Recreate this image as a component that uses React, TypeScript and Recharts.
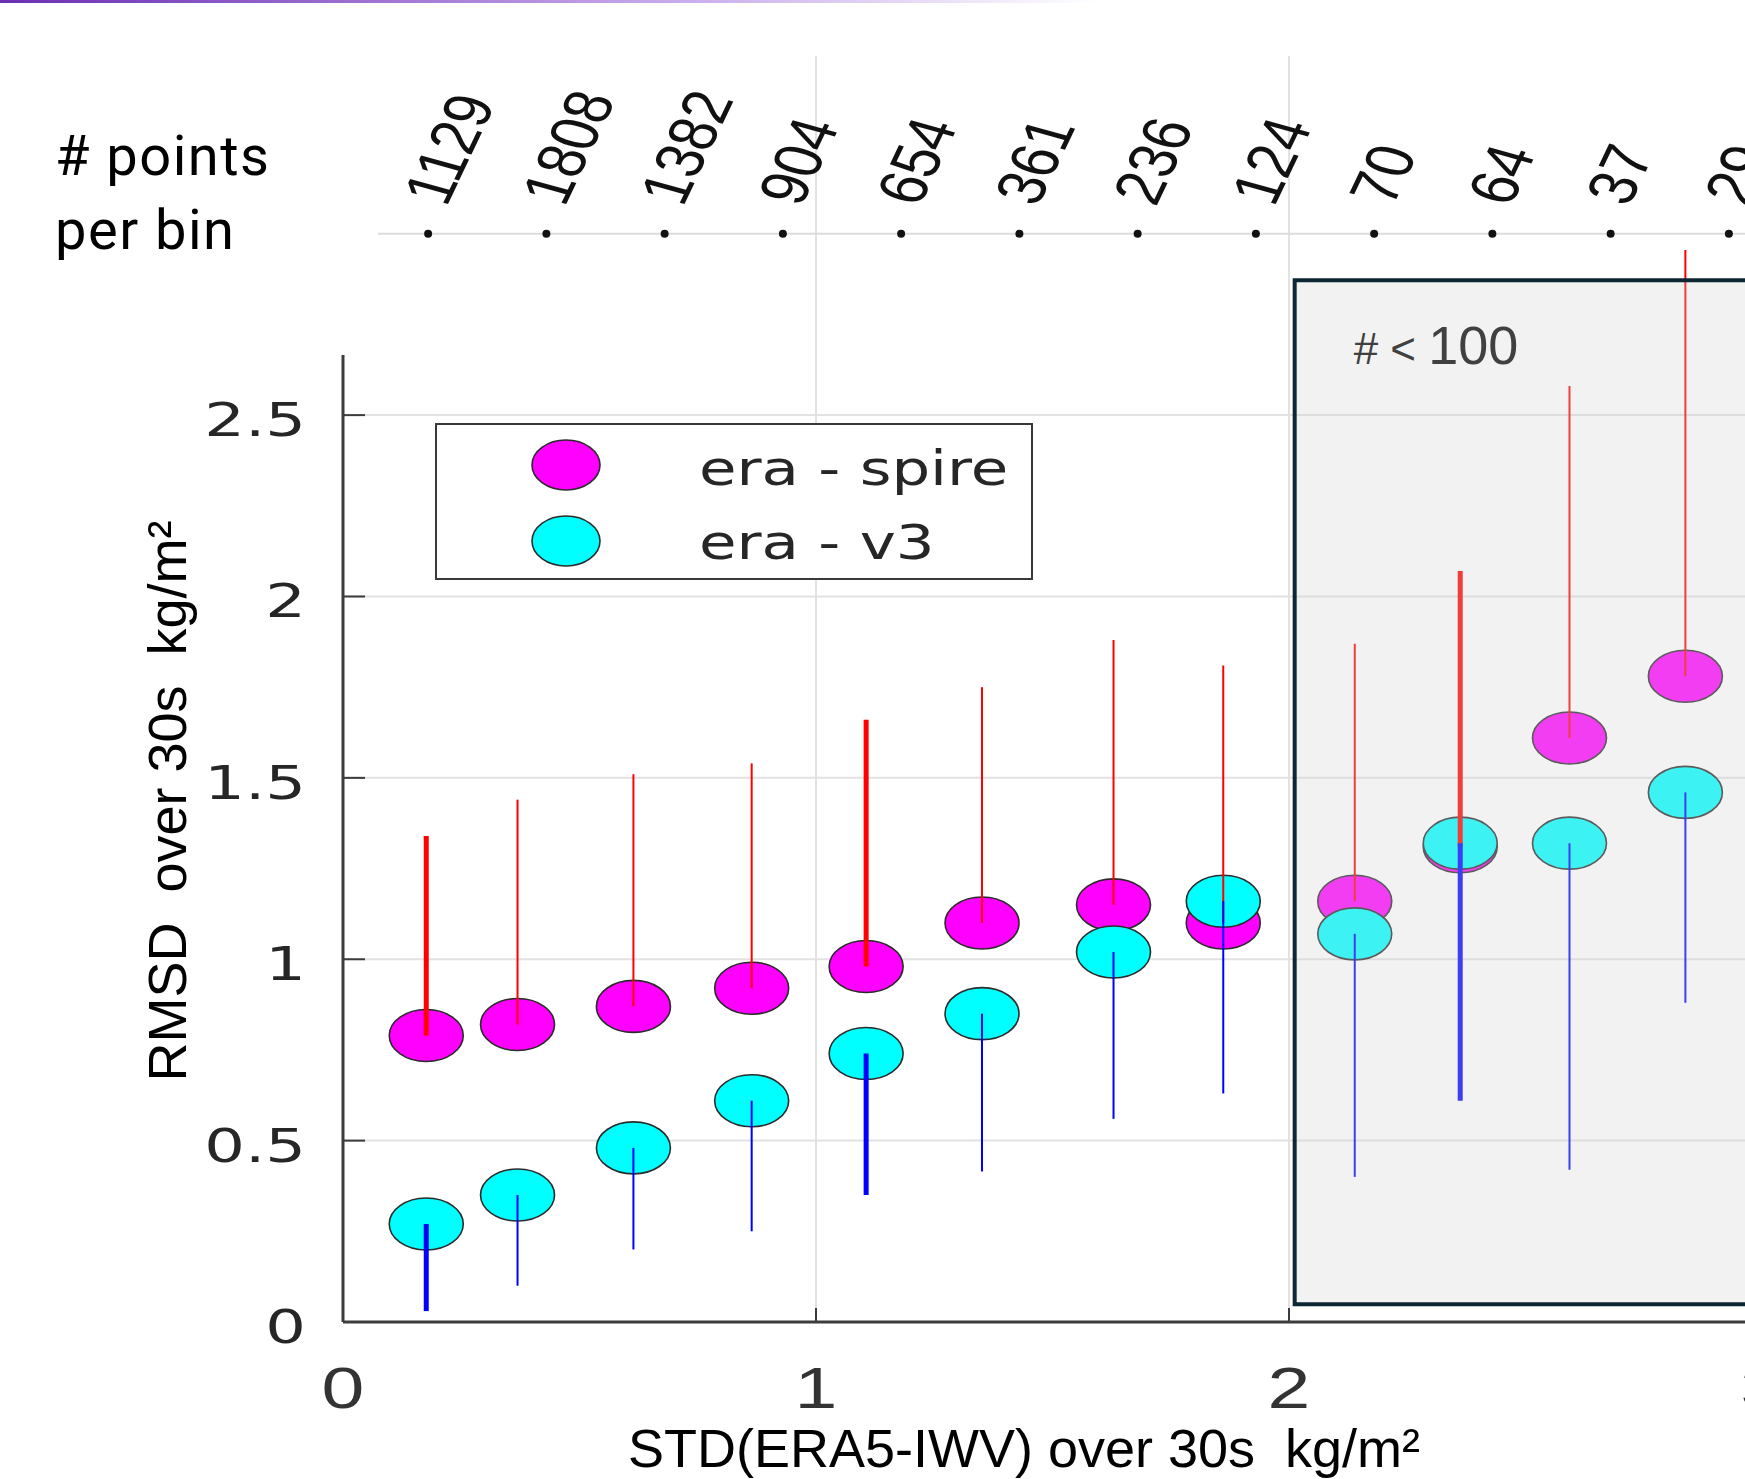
import React from 'react';
import {
  ScatterChart,
  Scatter,
  XAxis,
  YAxis,
  CartesianGrid,
  ErrorBar,
  ReferenceLine,
  ReferenceArea,
  Legend,
} from 'recharts';

// mean STD(ERA5-IWV) in each bin (kg/m2)
const binX = [0.176, 0.369, 0.614, 0.864, 1.106, 1.351, 1.629, 1.861, 2.139, 2.362, 2.593, 2.838];

// era - spire : RMSD and its spread (drawn upwards)
const spireRmsd = [0.79, 0.82, 0.87, 0.92, 0.98, 1.1, 1.15, 1.1, 1.16, 1.31, 1.61, 1.78];
const spireSpread = [0.55, 0.62, 0.64, 0.62, 0.68, 0.65, 0.73, 0.71, 0.71, 0.76, 0.97, 1.175];

// era - v3 : RMSD and its spread (drawn downwards)
const v3Rmsd = [0.27, 0.35, 0.48, 0.61, 0.74, 0.85, 1.02, 1.16, 1.07, 1.32, 1.32, 1.46];
const v3Spread = [0.24, 0.25, 0.28, 0.36, 0.39, 0.435, 0.46, 0.53, 0.67, 0.71, 0.9, 0.58];

// "# points per bin" row
const countX = [0.18, 0.43, 0.68, 0.93, 1.18, 1.43, 1.68, 1.93, 2.18, 2.43, 2.68, 2.93];
const pointCounts = [1129, 1808, 1382, 904, 654, 361, 236, 124, 70, 64, 37, 29];

const xTicks = [0, 1, 2, 3];
const yTicks = [0, 0.5, 1, 1.5, 2, 2.5];

// bins whose bars are drawn heavier in the original
const THICK_BINS = [0, 4, 9];
// height (in data units) of the count row above the axes
const COUNT_ROW_Y = 3;

const spireRows = binX.map((x, i) => {
  const thick = THICK_BINS.includes(i);
  return {
    x,
    y: spireRmsd[i],
    thin: thick ? [0, 0] : [0, spireSpread[i]],
    thick: thick ? [0, spireSpread[i]] : [0, 0],
  };
});

const v3Rows = binX.map((x, i) => {
  const thick = THICK_BINS.includes(i);
  return {
    x,
    y: v3Rmsd[i],
    thin: thick ? [0, 0] : [v3Spread[i], 0],
    thick: thick ? [v3Spread[i], 0] : [0, 0],
  };
});

const countRows = countX.map((x, i) => ({ x, y: COUNT_ROW_Y, n: pointCounts[i] }));

const SANS = '"Liberation Sans", Arial, sans-serif';
const WIDE = '"DejaVu Sans", Verdana, sans-serif';

const Blob = (p: any) => (
  <ellipse cx={p.cx} cy={p.cy} rx={37} ry={26} fill={p.fill} stroke="#2b2b2b" strokeWidth={1.6} />
);

const NoMark = () => <g />;

const CountMark = (p: any) => (
  <g>
    <circle cx={p.cx} cy={p.cy} r={4} fill="#111" />
    <text
      transform={`translate(${p.cx + 18},${p.cy - 26}) scale(1.31,1) rotate(-70)`}
      fontFamily={SANS}
      fontSize={52}
      fill="#111"
    >
      {p.payload.n}
    </text>
  </g>
);

const XTick = (p: any) => (
  <text
    transform={`translate(${p.x},${p.y}) scale(1.35,1)`}
    textAnchor="middle"
    fontFamily={SANS}
    fontSize={57}
    fill="#333"
  >
    {p.payload.value}
  </text>
);

const YTick = (p: any) => (
  <text
    transform={`translate(${p.x},${p.y + 21}) scale(1.36,1)`}
    textAnchor="end"
    fontFamily={WIDE}
    fontSize={47}
    fill="#262626"
  >
    {p.payload.value}
  </text>
);

const xTitle = (p: any) => {
  const vb = p.viewBox || { x: 343, y: 1322 };
  return (
    <text
      x={vb.x + 681}
      y={vb.y + 145}
      textAnchor="middle"
      fontFamily={SANS}
      fontSize={54}
      fill="#000"
      style={{ whiteSpace: 'pre' }}
    >
      {'STD(ERA5-IWV) over 30s  kg/m²'}
    </text>
  );
};

const yTitle = (p: any) => {
  const vb = p.viewBox || { x: 0, y: 56 };
  return (
    <text
      transform={`translate(${vb.x + 186},${vb.y + 745}) rotate(-90)`}
      textAnchor="middle"
      fontFamily={SANS}
      fontSize={54}
      fill="#000"
      style={{ whiteSpace: 'pre' }}
    >
      {'RMSD  over 30s  kg/m²'}
    </text>
  );
};

const fewPointsLabel = (p: any) => {
  const vb = p.viewBox || { x: 1295, y: 281 };
  return (
    <text x={vb.x + 59} y={vb.y + 84} fontFamily={SANS} fill="#404040" style={{ whiteSpace: 'pre' }}>
      <tspan fontSize={44}>{'# < '}</tspan>
      <tspan fontSize={54}>100</tspan>
    </text>
  );
};

const LegendBox = (props: any) => {
  const items = (props.payload || []).filter((it: any) => it.type !== 'none');
  return (
    <svg width={598} height={157} style={{ display: 'block' }}>
      <rect x={1} y={1} width={596} height={155} fill="#fff" stroke="#3a3a3a" strokeWidth={2} />
      {items.map((it: any, i: number) => (
        <g key={it.value}>
          <ellipse cx={131} cy={42 + 76 * i} rx={34} ry={25} fill={it.color} stroke="#2b2b2b" strokeWidth={1.6} />
          <text
            transform={`translate(264,${62 + 74 * i}) scale(1.27,1)`}
            fontFamily={WIDE}
            fontSize={48}
            fill="#262626"
          >
            {it.value}
          </text>
        </g>
      ))}
    </svg>
  );
};

export default function App() {
  return (
    <div
      style={{
        position: 'fixed',
        left: 0,
        top: 0,
        width: 1745,
        height: 1479,
        overflow: 'hidden',
        background: '#fff',
      }}
    >
      <div
        style={{
          position: 'absolute',
          left: 0,
          top: 0,
          width: 1100,
          height: 3,
          background: 'linear-gradient(to right, #6b2fb3, rgba(160,110,220,0.6) 60%, rgba(255,255,255,0))',
        }}
      />
      <div
        style={{
          position: 'absolute',
          left: 55,
          top: 119,
          fontFamily: 'Roboto, sans-serif',
          fontSize: 56,
          letterSpacing: '1.5px',
          lineHeight: '74px',
          color: '#000',
        }}
      >
        # points
        <br />
        per bin
      </div>
      <ScatterChart width={1800} height={1479} margin={{ top: 56, right: 38, bottom: 0, left: 0 }}>
        <CartesianGrid vertical={false} horizontalValues={yTicks} stroke="#e2e2e2" strokeWidth={2} />
        <ReferenceLine x={1} stroke="#e2e2e2" strokeWidth={2} />
        <ReferenceLine x={2} stroke="#e2e2e2" strokeWidth={2} />
        <ReferenceLine
          segment={[
            { x: 0.074, y: COUNT_ROW_Y },
            { x: 3, y: COUNT_ROW_Y },
          ]}
          stroke="#dcdcdc"
          strokeWidth={2}
        />
        <ReferenceLine
          segment={[
            { x: 0, y: 0 },
            { x: 0, y: 2.666 },
          ]}
          stroke="#3c3c3c"
          strokeWidth={3}
        />
        <XAxis
          type="number"
          dataKey="x"
          domain={[0, 3]}
          ticks={xTicks}
          interval={0}
          height={157}
          tickSize={-14}
          tickMargin={100}
          axisLine={{ stroke: '#3c3c3c', strokeWidth: 3 }}
          tickLine={{ stroke: '#3c3c3c', strokeWidth: 2 }}
          tick={XTick}
          label={xTitle}
        />
        <YAxis
          type="number"
          dataKey="y"
          domain={[0, 3.49]}
          ticks={yTicks}
          interval={0}
          width={343}
          tickSize={-22}
          tickMargin={59}
          axisLine={false}
          tickLine={{ stroke: '#3c3c3c', strokeWidth: 2 }}
          tick={YTick}
          label={yTitle}
        />
        <Legend
          content={LegendBox}
          layout="horizontal"
          verticalAlign="middle"
          align="center"
          wrapperStyle={{ position: 'absolute', left: 435, top: 423, width: 598, height: 157 }}
        />
        <Scatter data={countRows} shape={CountMark} legendType="none" isAnimationActive={false} />
        <Scatter name="era - spire" data={spireRows} fill="#ff00ff" shape={Blob} isAnimationActive={false} />
        <Scatter name="era - v3" data={v3Rows} fill="#00ffff" shape={Blob} isAnimationActive={false} />
        <Scatter data={spireRows} shape={NoMark} legendType="none" isAnimationActive={false} zIndex={650}>
          <ErrorBar dataKey="thin" direction="y" width={0} stroke="#ff0000" strokeWidth={2} isAnimationActive={false} zIndex={650} />
          <ErrorBar dataKey="thick" direction="y" width={0} stroke="#ff0000" strokeWidth={5} isAnimationActive={false} zIndex={650} />
        </Scatter>
        <Scatter data={v3Rows} shape={NoMark} legendType="none" isAnimationActive={false} zIndex={660}>
          <ErrorBar dataKey="thin" direction="y" width={0} stroke="#0000ff" strokeWidth={2} isAnimationActive={false} zIndex={660} />
          <ErrorBar dataKey="thick" direction="y" width={0} stroke="#0000ff" strokeWidth={5} isAnimationActive={false} zIndex={660} />
        </Scatter>
        <ReferenceArea
          x1={2.012}
          x2={3}
          y1={0.049}
          y2={2.872}
          fill="rgb(210,210,210)"
          fillOpacity={0.29}
          stroke="#0d2633"
          strokeWidth={4}
          ifOverflow="visible"
          zIndex={700}
          label={fewPointsLabel}
        />
      </ScatterChart>
    </div>
  );
}
